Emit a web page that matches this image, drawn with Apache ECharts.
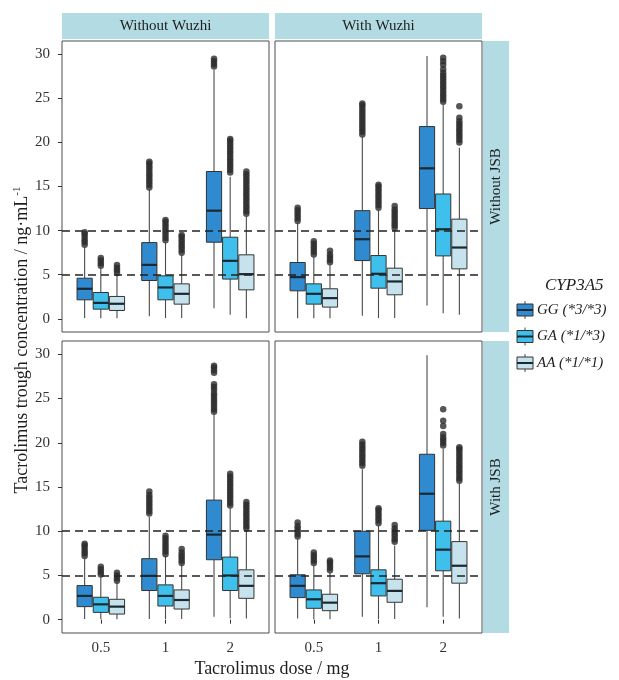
<!DOCTYPE html>
<html>
<head>
<meta charset="utf-8">
<title>Tacrolimus trough concentration</title>
<script src="https://cdn.jsdelivr.net/npm/echarts@6/dist/echarts.min.js"></script>
<style>
  html, body { margin: 0; padding: 0; background: #fff; }
  #chart { width: 619px; height: 680px; }
</style>
</head>
<body>
<div id="chart"></div>
<script>
// categories / labels
const doses = ['0.5', '1', '2']
const genotypes = ['GG (*3/*3)', 'GA (*1/*3)', 'AA (*1/*1)']
const wuzhiStrips = ['Without Wuzhi', 'With Wuzhi']
const jsbStrips = ['Without JSB', 'With JSB']
const yTicks = [0, 5, 10, 15, 20, 25, 30]
const refLines = [5, 10]

// box stats [lower whisker, Q1, median, Q3, upper whisker], one row per dose
const noJsbNoWuzhiGG = [[0.1, 2.15, 3.4, 4.6, 8.1], [0.3, 4.34, 6.11, 8.64, 14.6], [1.2, 8.68, 12.26, 16.7, 28.2]]
const noJsbNoWuzhiGA = [[0.05, 1.09, 1.8, 2.98, 5.7], [0.08, 2.15, 3.55, 4.87, 8.6], [0.45, 4.5, 6.57, 9.25, 16.1]]
const noJsbNoWuzhiAA = [[0.05, 0.94, 1.7, 2.53, 5.0], [0.08, 1.66, 2.83, 3.96, 7.2], [0.05, 3.28, 5.06, 7.25, 11.6]]

const noJsbWuzhiGG = [[0.05, 3.17, 4.72, 6.38, 10.8], [0.34, 6.6, 9.02, 12.26, 20.6], [1.5, 12.5, 17.06, 21.8, 29.8]]
const noJsbWuzhiGA = [[0.05, 1.66, 2.83, 3.96, 7.0], [0.08, 3.47, 5.1, 7.17, 12.3], [0.64, 7.13, 10.15, 14.15, 24.3]]
const noJsbWuzhiAA = [[0.05, 1.32, 2.34, 3.4, 6.1], [0.1, 2.72, 4.23, 5.74, 10.0], [0.45, 5.66, 8.08, 11.3, 19.4]]

const jsbNoWuzhiGG = [[0.08, 1.48, 2.69, 3.86, 6.9], [0.08, 3.3, 4.96, 6.9, 11.6], [0.34, 6.78, 9.62, 13.52, 23.2]]
const jsbNoWuzhiGA = [[0.05, 0.83, 1.74, 2.54, 4.8], [0.08, 1.55, 2.69, 3.94, 7.2], [0.15, 3.3, 5.0, 7.08, 12.6]]
const jsbNoWuzhiAA = [[0.05, 0.64, 1.48, 2.31, 4.2], [0.08, 1.21, 2.23, 3.37, 6.2], [0.15, 2.42, 3.83, 5.64, 10.0]]

const jsbWuzhiGG = [[0.15, 2.5, 3.83, 5.08, 9.1], [0.34, 5.19, 7.16, 10.0, 17.0], [1.4, 10.1, 14.24, 18.7, 29.9]]
const jsbWuzhiGA = [[0.05, 1.29, 2.31, 3.37, 6.1], [0.08, 2.69, 4.13, 5.64, 10.6], [0.34, 5.53, 7.92, 11.14, 19.3]]
const jsbWuzhiAA = [[0.05, 1.02, 1.93, 2.88, 5.3], [0.08, 1.97, 3.26, 4.58, 8.4], [0.15, 4.13, 6.1, 8.83, 15.4]]

// outliers, one list per dose
const noJsbNoWuzhiGGOut = [[8.4, 8.7, 9.0, 9.3, 9.6, 9.8], [14.9, 15.2, 15.5, 15.8, 16.1, 16.4, 16.7, 17.0, 17.3, 17.6, 17.8], [28.6, 28.9, 29.2, 29.5]]
const noJsbNoWuzhiGAOut = [[6.0, 6.3, 6.6, 6.9], [8.9, 9.2, 9.5, 9.8, 10.1, 10.4, 10.7, 11.0, 11.2], [16.6, 16.9, 17.2, 17.5, 17.8, 18.1, 18.4, 18.7, 19.0, 19.3, 19.6, 19.9, 20.2, 20.4]]
const noJsbNoWuzhiAAOut = [[5.2, 5.5, 5.8, 6.1], [7.5, 7.8, 8.1, 8.4, 8.7, 9.0, 9.3, 9.5], [11.9, 12.2, 12.5, 12.8, 13.1, 13.4, 13.7, 14.0, 14.3, 14.6, 14.9, 15.2, 15.5, 15.8, 16.1, 16.4, 16.7]]

const noJsbWuzhiGGOut = [[11.1, 11.4, 11.7, 12.0, 12.3, 12.6], [20.9, 21.2, 21.5, 21.8, 22.1, 22.4, 22.7, 23.0, 23.3, 23.6, 23.9, 24.2, 24.4], []]
const noJsbWuzhiGAOut = [[7.3, 7.6, 7.9, 8.2, 8.5, 8.8], [12.6, 12.9, 13.2, 13.5, 13.8, 14.1, 14.4, 14.7, 15.0, 15.2], [24.6, 24.9, 25.2, 25.5, 25.8, 26.1, 26.4, 26.7, 27.0, 27.3, 27.6, 27.9, 28.3, 28.8, 29.2, 29.6]]
const noJsbWuzhiAAOut = [[6.4, 6.7, 7.0, 7.3, 7.7], [10.3, 10.6, 10.9, 11.2, 11.5, 11.8, 12.1, 12.4, 12.8], [20.0, 20.3, 20.6, 20.9, 21.2, 21.5, 21.8, 22.1, 22.4, 22.8, 24.1]]

const jsbNoWuzhiGGOut = [[7.2, 7.5, 7.8, 8.1, 8.4, 8.6], [12.0, 12.3, 12.6, 12.9, 13.2, 13.5, 13.8, 14.1, 14.5], [23.5, 23.8, 24.1, 24.4, 24.7, 25.0, 25.3, 25.6, 26.0, 26.3, 26.6, 27.9, 28.2, 28.5, 28.7]]
const jsbNoWuzhiGAOut = [[5.1, 5.4, 5.7, 6.0], [7.4, 7.7, 8.0, 8.3, 8.6, 8.9, 9.2, 9.5], [12.9, 13.2, 13.5, 13.8, 14.1, 14.4, 14.7, 15.0, 15.3, 15.6, 15.9, 16.2, 16.5]]
const jsbNoWuzhiAAOut = [[4.4, 4.7, 5.0, 5.3], [6.4, 6.7, 7.0, 7.3, 7.6, 8.0], [10.3, 10.6, 10.9, 11.2, 11.5, 11.8, 12.1, 12.4, 12.7, 13.0, 13.3]]

const jsbWuzhiGGOut = [[9.4, 9.7, 10.0, 10.3, 10.6, 11.0], [17.4, 17.7, 18.0, 18.3, 18.6, 18.9, 19.2, 19.5, 19.8, 20.1], []]
const jsbWuzhiGAOut = [[6.4, 6.7, 7.0, 7.3, 7.6], [10.9, 11.2, 11.5, 11.8, 12.1, 12.4, 12.6], [19.7, 20.0, 20.3, 20.6, 21.0, 21.9, 22.5, 23.8]]
const jsbWuzhiAAOut = [[5.6, 5.9, 6.2, 6.5, 6.7], [8.8, 9.1, 9.4, 9.7, 10.0, 10.3, 10.7], [15.7, 16.0, 16.3, 16.6, 16.9, 17.2, 17.5, 17.8, 18.1, 18.4, 18.7, 19.0, 19.3, 19.5]]

// panels in grid order: top-left, top-right, bottom-left, bottom-right
const panels = [
  { boxes: [noJsbNoWuzhiGG, noJsbNoWuzhiGA, noJsbNoWuzhiAA], outliers: [noJsbNoWuzhiGGOut, noJsbNoWuzhiGAOut, noJsbNoWuzhiAAOut] },
  { boxes: [noJsbWuzhiGG, noJsbWuzhiGA, noJsbWuzhiAA], outliers: [noJsbWuzhiGGOut, noJsbWuzhiGAOut, noJsbWuzhiAAOut] },
  { boxes: [jsbNoWuzhiGG, jsbNoWuzhiGA, jsbNoWuzhiAA], outliers: [jsbNoWuzhiGGOut, jsbNoWuzhiGAOut, jsbNoWuzhiAAOut] },
  { boxes: [jsbWuzhiGG, jsbWuzhiGA, jsbWuzhiAA], outliers: [jsbWuzhiGGOut, jsbWuzhiGAOut, jsbWuzhiAAOut] }
]

// layout / style
const fills = ['#2f8ad0', '#3fc0ec', '#c6e3ed']
const stripFill = '#b3dbe3'
const serif = '"Liberation Serif", "DejaVu Serif", serif'
const textColor = '#1e1e1e'
const dodge = 0.25
const boxWidth = 0.235
const grids = [
  { left: 62, top: 41, width: 207, height: 291 },
  { left: 275, top: 41, width: 207, height: 291 },
  { left: 62, top: 341, width: 207, height: 292 },
  { left: 275, top: 341, width: 207, height: 292 }
]

function renderBox(params, api) {
  const x = api.value(0)
  const half = api.size([boxWidth, 0])[0] / 2
  const pMin = api.coord([x, api.value(1)])
  const pQ1 = api.coord([x, api.value(2)])
  const pMed = api.coord([x, api.value(3)])
  const pQ3 = api.coord([x, api.value(4)])
  const pMax = api.coord([x, api.value(5)])
  const whisker = { stroke: '#4a4a4a', lineWidth: 1.1 }
  return {
    type: 'group',
    children: [
      { type: 'line', shape: { x1: pMin[0], y1: pMin[1], x2: pQ1[0], y2: pQ1[1] }, style: whisker },
      { type: 'line', shape: { x1: pQ3[0], y1: pQ3[1], x2: pMax[0], y2: pMax[1] }, style: whisker },
      {
        type: 'rect',
        shape: { x: pQ3[0] - half, y: pQ3[1], width: half * 2, height: pQ1[1] - pQ3[1] },
        style: { fill: api.visual('color'), stroke: '#333', lineWidth: 1 }
      },
      {
        type: 'line',
        shape: { x1: pMed[0] - half, y1: pMed[1], x2: pMed[0] + half, y2: pMed[1] },
        style: { stroke: '#1b2830', lineWidth: 2.2 }
      }
    ]
  }
}

const xAxis = grids.map((g, i) => {
  const bottom = i >= 2
  return {
    type: 'value', gridIndex: i, min: 0.4, max: 3.6,
    splitLine: { show: false },
    axisLine: { show: false },
    axisTick: { show: bottom, customValues: [1, 2, 3], length: 4, lineStyle: { color: '#333' } },
    axisLabel: {
      show: bottom, customValues: [1, 2, 3], margin: 8,
      formatter: v => doses[Math.round(v) - 1],
      fontFamily: serif, fontSize: 15, color: '#333'
    }
  }
})

const yAxis = grids.map((g, i) => {
  const left = i % 2 === 0
  return {
    type: 'value', gridIndex: i, min: -1.5, max: 31.5,
    splitLine: { show: false },
    axisLine: { show: false },
    axisTick: { show: left, customValues: yTicks, length: 4, lineStyle: { color: '#333' } },
    axisLabel: {
      show: left, customValues: yTicks, margin: 12,
      fontFamily: serif, fontSize: 15, color: '#333'
    }
  }
})

const series = []
panels.forEach((panel, p) => {
  panel.boxes.forEach((rows, g) => {
    series.push({
      type: 'custom',
      name: genotypes[g],
      xAxisIndex: p, yAxisIndex: p,
      renderItem: renderBox,
      itemStyle: { color: fills[g] },
      encode: { x: 0, y: [1, 2, 3, 4, 5] },
      data: rows.map((r, d) => [d + 1 + (g - 1) * dodge].concat(r)),
      z: 2
    })
  })
  panel.outliers.forEach((lists, g) => {
    const pts = []
    lists.forEach((vals, d) => {
      vals.forEach(v => pts.push([d + 1 + (g - 1) * dodge, v]))
    })
    const s = {
      type: 'scatter',
      xAxisIndex: p, yAxisIndex: p,
      symbolSize: 6.5,
      itemStyle: { color: '#2c2c2c' },
      data: pts,
      z: 3
    }
    if (g === 0) {
      s.markLine = {
        silent: true,
        symbol: ['none', 'none'],
        label: { show: false },
        lineStyle: { color: '#222', type: [8, 5], width: 1.6 },
        data: refLines.map(v => ({ yAxis: v }))
      }
    }
    series.push(s)
  })
})

const graphic = []
// top strips
wuzhiStrips.forEach((t, i) => {
  const g = grids[i]
  graphic.push({ type: 'rect', shape: { x: g.left, y: 13, width: g.width, height: 26 }, style: { fill: stripFill } })
  graphic.push({
    type: 'text', x: g.left + g.width / 2, y: 26.5,
    style: { text: t, font: '15px ' + serif, fill: textColor, align: 'center', verticalAlign: 'middle' }
  })
})
// right strips
jsbStrips.forEach((t, i) => {
  const g = grids[i * 2 + 1]
  graphic.push({ type: 'rect', shape: { x: 483, y: g.top, width: 26, height: g.height }, style: { fill: stripFill } })
  graphic.push({
    type: 'text', x: 496.5, y: g.top + g.height / 2, rotation: Math.PI / 2,
    style: { text: t, font: '15px ' + serif, fill: textColor, align: 'center', verticalAlign: 'middle' }
  })
})
// axis titles
graphic.push({
  type: 'text', x: 22, y: 340, rotation: Math.PI / 2,
  style: {
    text: '{a|Tacrolimus trough concentration / ng·mL}{s|-1}',
    align: 'center', verticalAlign: 'middle',
    rich: {
      a: { font: '18px ' + serif, fill: textColor, lineHeight: 20 },
      s: { font: '11px ' + serif, fill: textColor, verticalAlign: 'top', lineHeight: 20 }
    }
  }
})
graphic.push({
  type: 'text', x: 272, y: 669,
  style: { text: 'Tacrolimus dose / mg', font: '18px ' + serif, fill: textColor, align: 'center', verticalAlign: 'middle' }
})
// legend
graphic.push({
  type: 'text', x: 545, y: 286,
  style: { text: 'CYP3A5', font: 'italic 17px ' + serif, fill: textColor, align: 'left', verticalAlign: 'middle' }
})
genotypes.forEach((name, i) => {
  const cy = 310 + i * 26.5
  graphic.push({ type: 'line', shape: { x1: 525, y1: cy - 9, x2: 525, y2: cy + 9 }, style: { stroke: '#4a4a4a', lineWidth: 1 } })
  graphic.push({ type: 'rect', shape: { x: 517, y: cy - 6, width: 16, height: 12 }, style: { fill: fills[i], stroke: '#333', lineWidth: 1 } })
  graphic.push({ type: 'line', shape: { x1: 517, y1: cy, x2: 533, y2: cy }, style: { stroke: '#1b2830', lineWidth: 2 } })
  graphic.push({
    type: 'text', x: 537, y: cy,
    style: { text: name, font: 'italic 15px ' + serif, fill: textColor, align: 'left', verticalAlign: 'middle' }
  })
})

const chart = echarts.init(document.getElementById('chart'))
chart.setOption({
  animation: false,
  backgroundColor: '#fff',
  grid: grids.map(g => Object.assign({ show: true, borderColor: '#4d4d4d', borderWidth: 1, backgroundColor: '#fff' }, g)),
  xAxis: xAxis,
  yAxis: yAxis,
  series: series,
  graphic: graphic
})
window.addEventListener('resize', () => chart.resize())
</script>
</body>
</html>
